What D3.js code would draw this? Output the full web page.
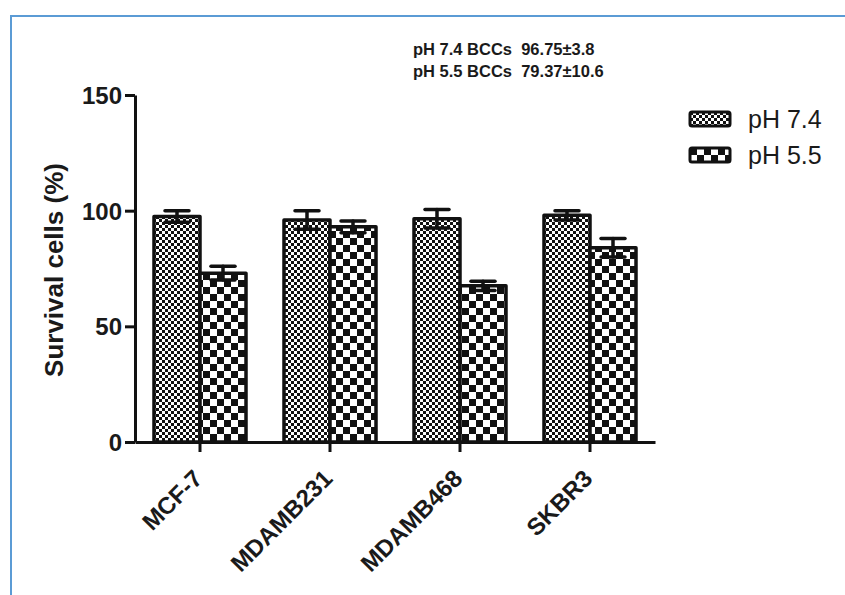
<!DOCTYPE html>
<html lang="en">
<head>
<meta charset="UTF-8" />
<title>Survival cells</title>
<script src="https://d3js.org/d3.v7.min.js"></script>
<style>
  body { margin: 0; background: #fff; }
  svg { display: block; font-family: "Liberation Sans", Arial, sans-serif; }
</style>
</head>
<body>
<script>
// data
const cellLines = ["MCF-7", "MDAMB231", "MDAMB468", "SKBR3"];
const seriesNames = ["pH 7.4", "pH 5.5"];
const ph74 = [97.5, 96, 96.5, 98];
const ph74err = [2.5, 4, 4, 2];
const ph55 = [73, 93, 67.5, 84];
const ph55err = [3, 2.5, 2, 4];
const yTicks = [0, 50, 100, 150];
const notes = ["pH 7.4 BCCs  96.75\u00b13.8", "pH 5.5 BCCs  79.37\u00b110.6"];

const W = 845, H = 595;
const svg = d3.select("body").append("svg").attr("width", W).attr("height", H);

// blue frame lines (top and left)
svg.append("line").attr("x1", 10).attr("x2", W).attr("y1", 16).attr("y2", 16)
  .attr("stroke", "#5b9bd5").attr("stroke-width", 2);
svg.append("line").attr("x1", 11).attr("x2", 11).attr("y1", 15).attr("y2", H)
  .attr("stroke", "#5b9bd5").attr("stroke-width", 2);

// patterns
const defs = svg.append("defs");
const fine = defs.append("pattern").attr("id", "fine").attr("patternUnits", "userSpaceOnUse")
  .attr("width", 6).attr("height", 6);
fine.append("rect").attr("width", 6).attr("height", 6).attr("fill", "#fff");
fine.append("rect").attr("width", 3).attr("height", 3).attr("fill", "#111");
fine.append("rect").attr("x", 3).attr("y", 3).attr("width", 3).attr("height", 3).attr("fill", "#111");
const coarse = defs.append("pattern").attr("id", "coarse").attr("patternUnits", "userSpaceOnUse")
  .attr("width", 14).attr("height", 14);
coarse.append("rect").attr("width", 14).attr("height", 14).attr("fill", "#fff");
coarse.append("rect").attr("width", 7).attr("height", 7).attr("fill", "#111");
coarse.append("rect").attr("x", 7).attr("y", 7).attr("width", 7).attr("height", 7).attr("fill", "#111");
const fills = ["url(#fine)", "url(#coarse)"];

// scales
const x0 = d3.scaleBand().domain(cellLines).range([135, 655]).padding(0);
const x1 = d3.scaleBand().domain(seriesNames).range([0, x0.bandwidth()]).paddingInner(0).paddingOuter(0.413);
const y = d3.scaleLinear().domain([0, 150]).range([442, 95]);

const rows = cellLines.map((c, i) => [
  { cat: c, s: seriesNames[0], v: ph74[i], e: ph74err[i], f: fills[0] },
  { cat: c, s: seriesNames[1], v: ph55[i], e: ph55err[i], f: fills[1] }
]).flat();

// bars
svg.append("g").selectAll("rect").data(rows).enter().append("rect")
  .attr("x", d => x0(d.cat) + x1(d.s))
  .attr("y", d => y(d.v))
  .attr("width", x1.bandwidth())
  .attr("height", d => y(0) - y(d.v))
  .attr("fill", d => d.f)
  .attr("stroke", "#111").attr("stroke-width", 3.5).attr("stroke-linejoin", "round");

// error bars
const eb = svg.append("g").attr("stroke", "#111").attr("stroke-width", 3.5).attr("stroke-linecap", "round");
rows.forEach(d => {
  const cx = x0(d.cat) + x1(d.s) + x1.bandwidth() / 2;
  eb.append("line").attr("x1", cx).attr("x2", cx).attr("y1", y(d.v + d.e)).attr("y2", y(d.v - d.e));
  eb.append("line").attr("x1", cx - 12).attr("x2", cx + 12).attr("y1", y(d.v + d.e)).attr("y2", y(d.v + d.e));
  eb.append("line").attr("x1", cx - 12).attr("x2", cx + 12).attr("y1", y(d.v - d.e)).attr("y2", y(d.v - d.e));
});

// y axis
const yAxis = svg.append("g").attr("transform", "translate(135,0)")
  .call(d3.axisLeft(y).tickValues(yTicks).tickSize(10).tickSizeOuter(0).tickPadding(3));
yAxis.select(".domain").attr("stroke", "#111").attr("stroke-width", 3);
yAxis.selectAll(".tick line").attr("stroke", "#111").attr("stroke-width", 3);
yAxis.selectAll(".tick text").attr("fill", "#1a1a1a").style("font-size", "24px").style("font-weight", "bold")
  .attr("dy", "0.36em");

// x axis
const xAxis = svg.append("g").attr("transform", "translate(0,442)")
  .call(d3.axisBottom(x0).tickSize(10).tickSizeOuter(0));
xAxis.select(".domain").attr("stroke", "#111").attr("stroke-width", 3);
xAxis.selectAll(".tick line").attr("stroke", "#111").attr("stroke-width", 3);
xAxis.selectAll(".tick text").attr("fill", "#1a1a1a").style("font-size", "24px").style("font-weight", "bold")
  .attr("text-anchor", "end").attr("dy", "0").attr("y", 0)
  .attr("transform", "translate(4,38) rotate(-45)");

// y axis title
svg.append("text").attr("transform", "translate(63,270) rotate(-90)")
  .attr("text-anchor", "middle").attr("fill", "#1a1a1a")
  .style("font-size", "26px").style("font-weight", "bold")
  .text("Survival cells (%)");

// annotation
svg.append("g").selectAll("text").data(notes).enter().append("text")
  .attr("x", 413).attr("y", (d, i) => 55 + i * 22)
  .attr("fill", "#1a1a1a").style("font-size", "16.5px").style("font-weight", "bold")
  .style("white-space", "pre").attr("xml:space", "preserve")
  .text(d => d);

// legend
const leg = svg.append("g").selectAll("g").data(seriesNames).enter().append("g")
  .attr("transform", (d, i) => `translate(690,${112 + i * 36})`);
leg.append("rect").attr("width", 40).attr("height", 14).attr("rx", 2)
  .attr("fill", (d, i) => fills[i]).attr("stroke", "#111").attr("stroke-width", 3);
leg.append("text").attr("x", 58).attr("y", 16).attr("fill", "#1a1a1a")
  .style("font-size", "25px").text(d => d);
</script>
</body>
</html>
